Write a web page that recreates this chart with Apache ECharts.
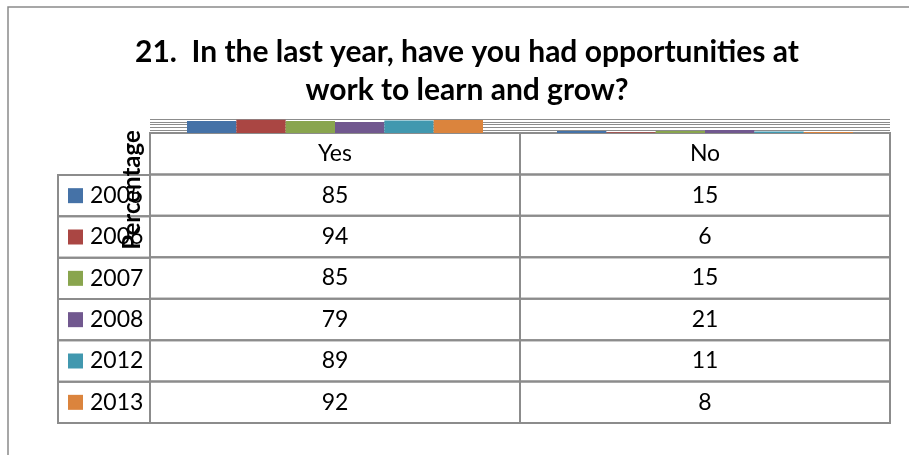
<!DOCTYPE html>
<html>
<head>
<meta charset="utf-8">
<script src="https://cdn.jsdelivr.net/npm/echarts@6/dist/echarts.min.js"></script>
<style>
  html, body { margin: 0; padding: 0; background: #fff; }
  #chart { width: 909px; height: 455px; }
</style>
</head>
<body>
<div id="chart"></div>
<script>
// Survey answers per year, in percent
const categories = ['Yes', 'No'];
const years = ['2005', '2006', '2007', '2008', '2012', '2013'];
const yesValues = [85, 94, 85, 79, 89, 92];
const noValues = [15, 6, 15, 21, 11, 8];
const valueTicks = [0, 20, 40, 60, 80, 100];

const colors = ['#4572A7', '#AA4643', '#89A54E', '#71588F', '#4198AF', '#DB843D'];
const gridColor = '#8c8c8c';
const font = 'Lato, "Noto Sans", sans-serif';

// One bar series per year, values in category order
const barSeries = years.map((y, i) => ({
  name: y,
  type: 'bar',
  xAxisIndex: 0,
  yAxisIndex: 0,
  data: [yesValues[i], noValues[i]],
  itemStyle: { color: colors[i] },
  barGap: '0%',
  barCategoryGap: '20%',
  z: 3
}));

// Data table body: header row + one row per year
const tableRows = [''].concat(years);
const tableCells = [];
categories.forEach((c, ci) => tableCells.push({ value: [ci, 0], text: c }));
years.forEach((y, ri) => {
  tableCells.push({ value: [0, ri + 1], text: String(yesValues[ri]) });
  tableCells.push({ value: [1, ri + 1], text: String(noValues[ri]) });
});

const cellText = {
  fill: '#000',
  font: '23px ' + font,
  textAlign: 'center',
  textVerticalAlign: 'middle'
};

const option = {
  animation: false,
  backgroundColor: '#fff',
  color: colors,
  title: {
    text: '21.  In the last year, have you had opportunities at\nwork to learn and grow?',
    left: 462,
    top: 28,
    textAlign: 'center',
    textStyle: {
      fontFamily: font,
      fontWeight: 'bold',
      fontSize: 30,
      lineHeight: 38,
      color: '#000'
    }
  },
  graphic: [{
    type: 'rect',
    shape: { x: 8, y: 7, width: 1200, height: 1200 },
    style: { fill: null, stroke: '#8a8a8a', lineWidth: 1.5 },
    silent: true
  }],
  grid: [
    { left: 150, right: 19, top: 119, height: 14 },
    { left: 150, right: 19, top: 133, bottom: 32 },
    { left: 58, width: 92, top: 175, bottom: 32 }
  ],
  xAxis: [
    {
      type: 'category', gridIndex: 0, data: categories,
      axisLine: { show: true, lineStyle: { color: gridColor, width: 1 } },
      axisTick: { show: false }, axisLabel: { show: false }
    },
    {
      type: 'category', gridIndex: 1, data: categories,
      axisLine: { show: false }, axisTick: { show: false }, axisLabel: { show: false }
    },
    {
      type: 'category', gridIndex: 2, data: [''],
      axisLine: { show: false }, axisTick: { show: false }, axisLabel: { show: false }
    }
  ],
  yAxis: [
    {
      type: 'value', gridIndex: 0,
      min: valueTicks[0], max: valueTicks[valueTicks.length - 1], interval: 20,
      axisLine: { show: false }, axisTick: { show: false }, axisLabel: { show: false },
      splitLine: { show: true, lineStyle: { color: gridColor, width: 1 } },
      name: 'Percentage',
      nameLocation: 'middle',
      nameRotate: 90,
      nameGap: 6,
      nameTextStyle: {
        fontFamily: font, fontWeight: 'bold', fontSize: 24, color: '#000',
        padding: [0, 128, 0, 0]
      },
      z: 2.5
    },
    {
      type: 'category', gridIndex: 1, data: tableRows, inverse: true,
      axisLine: { show: false }, axisTick: { show: false }, axisLabel: { show: false }
    },
    {
      type: 'category', gridIndex: 2, data: years, inverse: true,
      axisLine: { show: false }, axisTick: { show: false }, axisLabel: { show: false }
    }
  ],
  series: barSeries.concat([
    {
      type: 'custom',
      xAxisIndex: 1,
      yAxisIndex: 1,
      data: tableCells.map(c => c.value),
      z: 2,
      renderItem: (params, api) => {
        const c = api.coord([api.value(0), api.value(1)]);
        const s = api.size([1, 1]);
        return {
          type: 'group',
          children: [
            {
              type: 'rect',
              shape: { x: c[0] - s[0] / 2, y: c[1] - s[1] / 2, width: s[0], height: s[1] },
              style: { fill: null, stroke: gridColor, lineWidth: 2 }
            },
            {
              type: 'text',
              style: Object.assign({ text: tableCells[params.dataIndex].text, x: c[0], y: c[1] }, cellText)
            }
          ]
        };
      }
    },
    {
      type: 'custom',
      xAxisIndex: 2,
      yAxisIndex: 2,
      data: years.map((y, i) => [0, i]),
      z: 2,
      renderItem: (params, api) => {
        const c = api.coord([api.value(0), api.value(1)]);
        const s = api.size([1, 1]);
        const left = c[0] - s[0] / 2;
        const i = params.dataIndex;
        return {
          type: 'group',
          children: [
            {
              type: 'rect',
              shape: { x: left, y: c[1] - s[1] / 2, width: s[0], height: s[1] },
              style: { fill: null, stroke: gridColor, lineWidth: 2 }
            },
            {
              type: 'rect',
              shape: { x: left + 10, y: c[1] - 7.5, width: 15, height: 15 },
              style: { fill: colors[i] }
            },
            {
              type: 'text',
              style: {
                text: years[i], x: left + 32, y: c[1],
                fill: '#000', font: '23px ' + font,
                textAlign: 'left', textVerticalAlign: 'middle'
              }
            }
          ]
        };
      }
    }
  ])
};

echarts.init(document.getElementById('chart'), null, { renderer: 'canvas' }).setOption(option);
</script>
</body>
</html>
